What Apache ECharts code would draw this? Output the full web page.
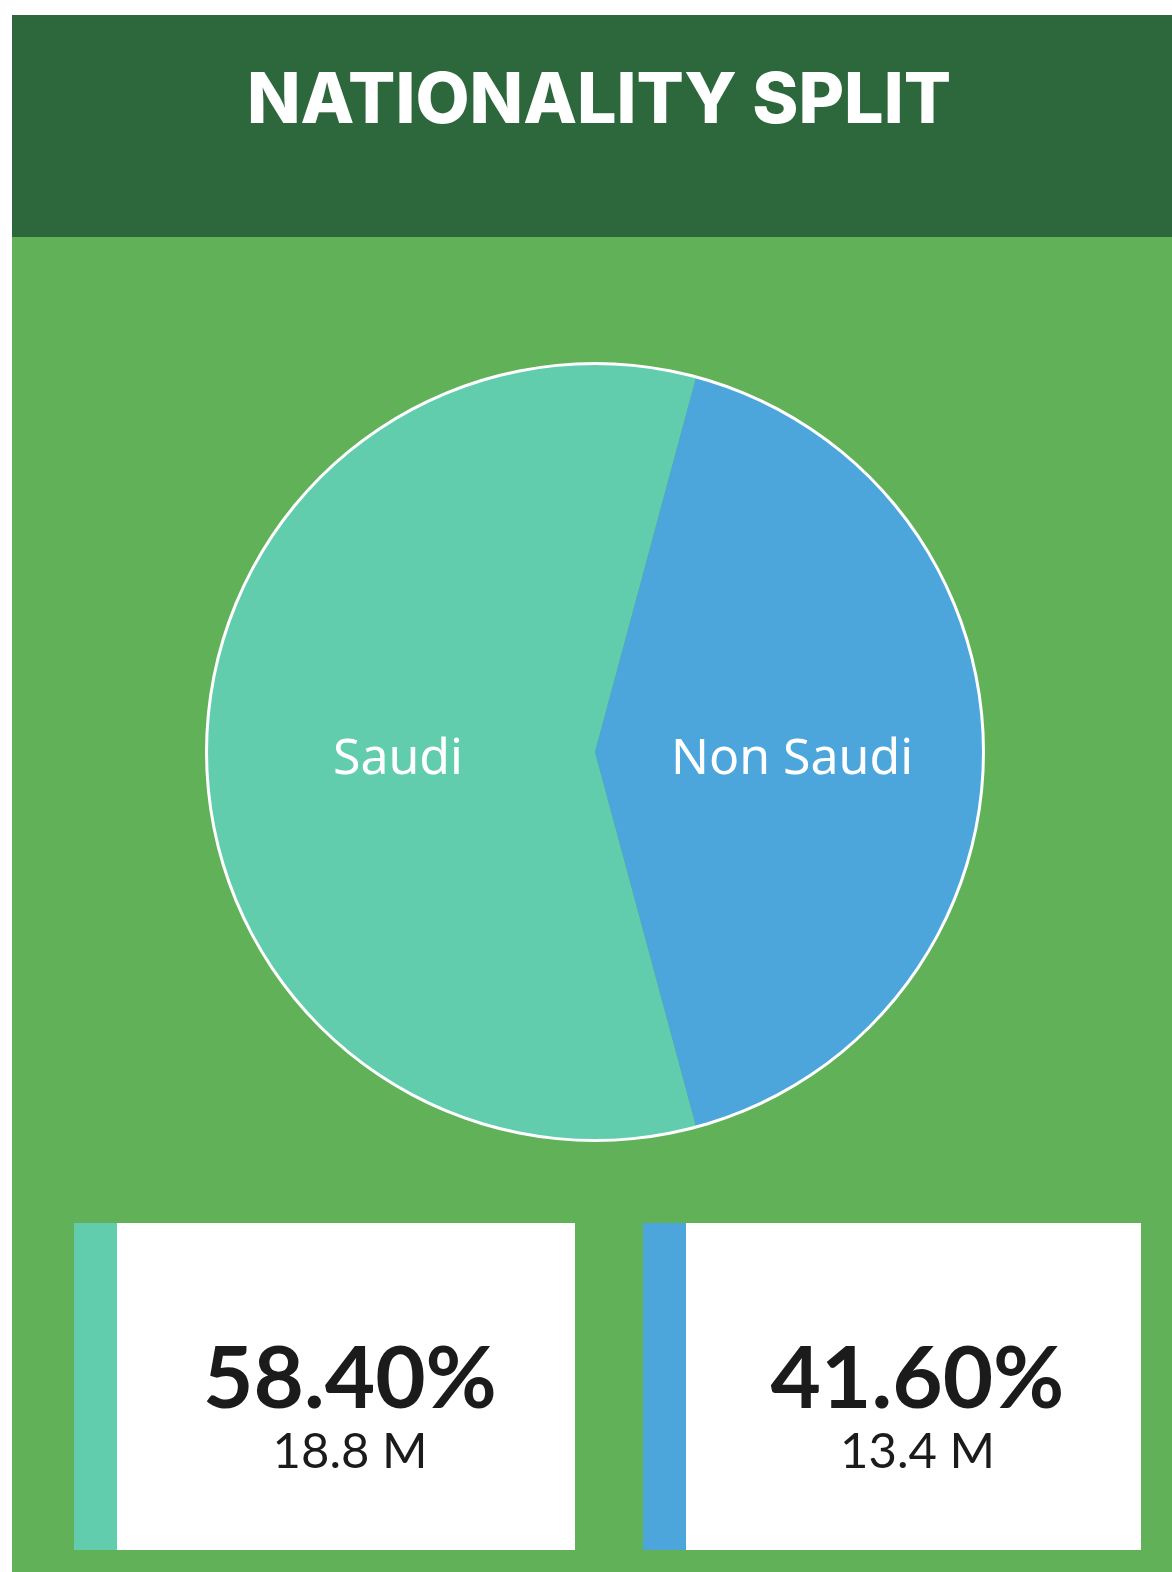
<!DOCTYPE html>
<html>
<head>
<meta charset="utf-8">
<script src="https://cdn.jsdelivr.net/npm/echarts@6/dist/echarts.min.js"></script>
<style>
  html, body { margin: 0; padding: 0; background: #ffffff; }
  #chart { width: 1172px; height: 1572px; }
</style>
</head>
<body>
<div id="chart"></div>
<script>
// Data
const categories = ["Saudi", "Non Saudi"];
const populationM = [18.8, 13.4];      // millions
const sharePct = [58.40, 41.60];       // percent shown in the cards
const sliceColors = ["#62cdad", "#4ca6dc"];

const titleText = "NATIONALITY SPLIT";

const chart = echarts.init(document.getElementById("chart"));

// Saudi slice centred on the left side, Non Saudi on the right
const saudiSpan = 360 * populationM[0] / (populationM[0] + populationM[1]);
const startAngle = 180 + saudiSpan / 2;

// cards under the pie, one per category
const cardX = [74, 643];
const cardW = [501, 498];
const cardY = 1223;
const cardH = 327;
const stripeW = 43;

const cards = [];
categories.forEach((name, i) => {
  const cx = cardX[i] + stripeW + (cardW[i] - stripeW) / 2 + 4;
  cards.push(
    { type: "rect", shape: { x: cardX[i], y: cardY, width: cardW[i], height: cardH }, style: { fill: "#ffffff" } },
    { type: "rect", shape: { x: cardX[i], y: cardY, width: stripeW, height: cardH }, style: { fill: sliceColors[i] } },
    {
      type: "text", x: cx, y: 1380,
      style: {
        text: sharePct[i].toFixed(2) + "%", fill: "#1b1b1b",
        font: "bold 87px Lato", align: "center", verticalAlign: "middle",
      },
    },
    {
      type: "text", x: cx, y: 1452,
      style: {
        text: populationM[i].toFixed(1) + " M", fill: "#1b1b1b",
        font: "49px Lato", align: "center", verticalAlign: "middle",
      },
    },
  );
});

chart.setOption({
  animation: false,
  backgroundColor: "#ffffff",
  graphic: [
    { type: "rect", z: -10, shape: { x: 12, y: 15, width: 1160, height: 1557 }, style: { fill: "#61b158" } },
    { type: "rect", z: -9, shape: { x: 12, y: 15, width: 1160, height: 222 }, style: { fill: "#2d683d" } },
    {
      type: "text", x: 599, y: 102,
      style: {
        text: titleText, fill: "#ffffff",
        font: "800 70px Inter", align: "center", verticalAlign: "middle",
      },
    },
    ...cards,
  ],
  series: [
    {
      type: "pie",
      center: [595, 752],
      radius: [0, 388],
      startAngle: startAngle,
      clockwise: true,
      silent: true,
      label: {
        show: true,
        position: "inside",
        color: "#ffffff",
        fontFamily: "Noto Sans",
        fontSize: 50,
        formatter: "{b}",
      },
      labelLayout: { dy: 8 },
      labelLine: { show: false },
      itemStyle: { borderWidth: 0 },
      data: categories.map((name, i) => ({
        name: name,
        value: populationM[i],
        itemStyle: { color: sliceColors[i] },
      })),
    },
    {
      // thin white outline around the pie
      type: "pie",
      center: [595, 752],
      radius: [387, 390],
      silent: true,
      label: { show: false },
      labelLine: { show: false },
      data: [{ value: 1, itemStyle: { color: "#ffffff" } }],
    },
  ],
});

window.addEventListener("resize", () => chart.resize());
</script>
</body>
</html>
